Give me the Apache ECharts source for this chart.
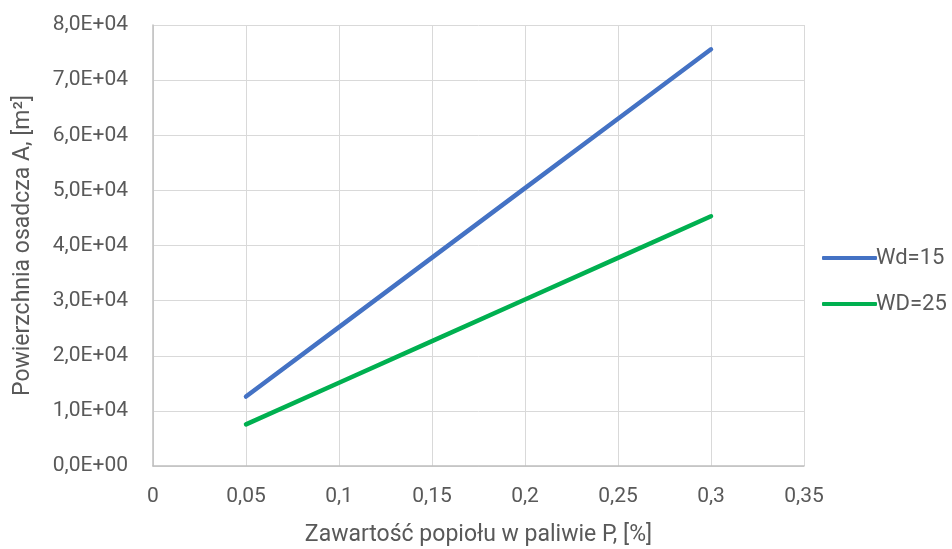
<!DOCTYPE html>
<html>
<head>
<meta charset="utf-8">
<script src="https://cdn.jsdelivr.net/npm/echarts@6/dist/echarts.min.js"></script>
<style>
  html, body { margin: 0; padding: 0; background: #fff; }
  #chart { width: 952px; height: 549px; }
</style>
</head>
<body>
<div id="chart"></div>
<script>
const xValues = [0.05, 0.1, 0.15, 0.2, 0.25, 0.3];
const wd15 = [12600, 25200, 37800, 50400, 63000, 75600];
const wd25 = [7550, 15100, 22650, 30200, 37750, 45300];
const seriesNames = ['Wd=15', 'WD=25'];
const colors = ['#4472C4', '#00B050'];

const textColor = '#595959';
const font = 'Roboto, "Liberation Sans", sans-serif';

const pairs = arr => xValues.map((x, i) => [x, arr[i]]);

const myChart = echarts.init(document.getElementById('chart'));
myChart.setOption({
  backgroundColor: '#fff',
  animation: false,
  textStyle: { fontFamily: font, color: textColor },
  grid: { left: 153, right: 148, top: 25, bottom: 83, containLabel: false, outerBoundsMode: 'none' },
  legend: {
    orient: 'vertical',
    left: 817,
    top: 242,
    itemWidth: 55,
    itemHeight: 4,
    itemGap: 24,
    icon: 'roundRect',
    textStyle: { fontSize: 22, lineHeight: 22, color: textColor, fontFamily: font, padding: [0, 0, 0, -6] },
    data: seriesNames
  },
  xAxis: {
    type: 'value',
    min: 0,
    max: 0.35,
    interval: 0.05,
    name: 'Zawartość popiołu w paliwie P, [%]',
    nameLocation: 'middle',
    nameGap: 58,
    nameTextStyle: { fontSize: 23, color: textColor, fontFamily: font },
    axisLine: { show: true, lineStyle: { color: '#BFBFBF', width: 1.5 } },
    axisTick: { show: false },
    axisLabel: {
      fontSize: 21, color: textColor, margin: 20,
      formatter: v => String(+v.toFixed(2)).replace('.', ',')
    },
    splitLine: { show: true, lineStyle: { color: '#D9D9D9', width: 1 } }
  },
  yAxis: {
    type: 'value',
    min: 0,
    max: 80000,
    interval: 10000,
    name: 'Powierzchnia osadcza A, [m²]',
    nameLocation: 'middle',
    nameGap: 118,
    nameRotate: 90,
    nameTextStyle: { fontSize: 23, color: textColor, fontFamily: font },
    axisLine: { show: true, lineStyle: { color: '#BFBFBF', width: 1.5 } },
    axisTick: { show: false },
    axisLabel: {
      fontSize: 21, color: textColor, margin: 25,
      formatter: v => (v / 10000).toFixed(1).replace('.', ',') + (v === 0 ? 'E+00' : 'E+04')
    },
    splitLine: { show: true, lineStyle: { color: '#D9D9D9', width: 1 } }
  },
  series: [
    {
      name: seriesNames[0],
      type: 'line',
      data: pairs(wd15),
      showSymbol: false,
      color: colors[0],
      lineStyle: { width: 4.5, color: colors[0], cap: 'round' }
    },
    {
      name: seriesNames[1],
      type: 'line',
      data: pairs(wd25),
      showSymbol: false,
      color: colors[1],
      lineStyle: { width: 4.5, color: colors[1], cap: 'round' }
    }
  ]
});
</script>
</body>
</html>
